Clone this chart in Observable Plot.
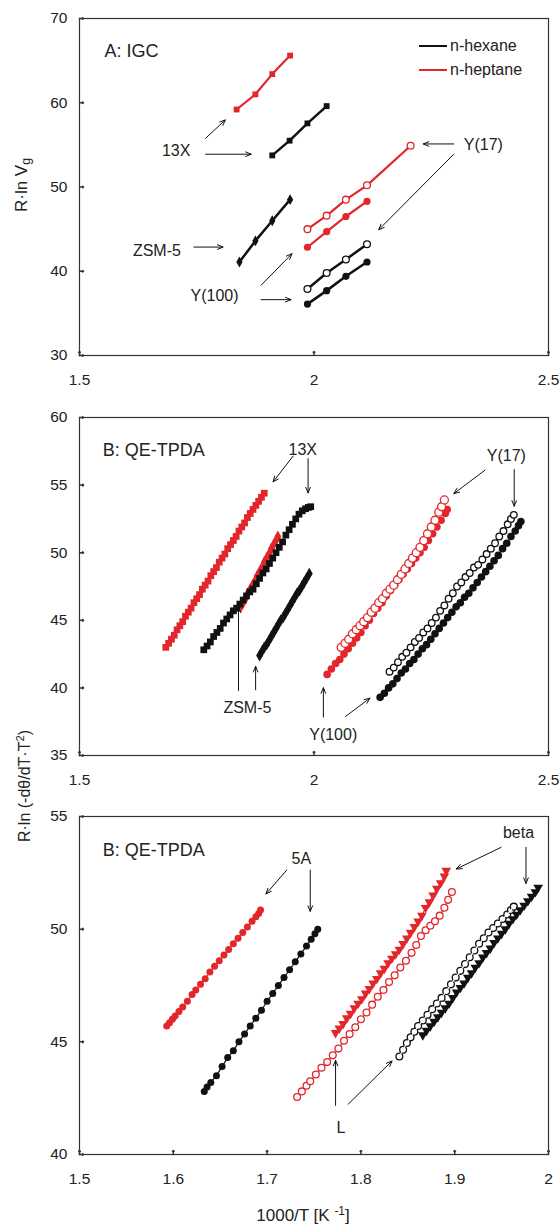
<!DOCTYPE html>
<html><head><meta charset="utf-8">
<script src="https://cdn.jsdelivr.net/npm/d3@7"></script>
<script src="https://cdn.jsdelivr.net/npm/@observablehq/plot@0.6"></script>
<style>
body{margin:0;background:#fff;}
#wrap{position:relative;width:560px;height:1225px;font-family:"Liberation Sans",Arial,sans-serif;color:#222;}
#wrap svg{display:block;}
.lab{position:absolute;white-space:nowrap;line-height:1;}
</style></head><body><div id="wrap"></div>
<script>
// ---------------- DATA ----------------
// Panel A: IGC
const A_13X_hep_x = [1.835,1.875,1.911,1.949];
const A_13X_hep_y = [59.2,61.0,63.4,65.6];
const A_13X_hex_x = [1.911,1.948,1.986,2.027];
const A_13X_hex_y = [53.75,55.5,57.55,59.6];
const A_ZSM5_hex_x = [1.841,1.875,1.911,1.949];
const A_ZSM5_hex_y = [41.1,43.6,46.0,48.5];
const A_Y17_hep_x = [1.986,2.027,2.068,2.113,2.206];
const A_Y17_hep_y = [45.0,46.6,48.5,50.2,54.9];
const A_Y100_hep_x = [1.986,2.027,2.068,2.113];
const A_Y100_hep_y = [42.85,44.7,46.5,48.3];
const A_Y17_hex_x = [1.986,2.027,2.068,2.113];
const A_Y17_hex_y = [37.9,39.8,41.4,43.2];
const A_Y100_hex_x = [1.986,2.027,2.068,2.113];
const A_Y100_hex_y = [36.1,37.7,39.4,41.1];

// Panel B: QE-TPDA (13X, ZSM-5, Y)
const B_13X_hep_x = [1.684,1.690,1.696,1.702,1.708,1.714,1.720,1.726,1.732,1.738,1.744,1.750,1.756,1.762,1.768,1.774,1.780,1.786,1.792,1.798,1.804,1.810,1.816,1.822,1.828,1.834,1.840,1.846,1.852,1.858,1.864,1.870,1.876,1.882,1.888,1.894];
const B_13X_hep_y = [43.0,43.3,43.6,43.9,44.3,44.6,44.9,45.3,45.6,45.9,46.3,46.6,46.9,47.3,47.6,47.9,48.3,48.6,48.9,49.3,49.6,49.9,50.3,50.6,50.9,51.2,51.6,51.9,52.2,52.6,52.9,53.2,53.5,53.8,54.1,54.4];
const B_13X_hex_x = [1.765,1.772,1.779,1.786,1.793,1.800,1.807,1.814,1.821,1.828,1.835,1.842,1.849,1.856,1.863,1.870,1.877,1.884,1.891,1.898,1.905,1.912,1.919,1.926,1.933,1.940,1.947,1.954,1.961,1.968,1.975,1.982,1.988,1.993];
const B_13X_hex_y = [42.82,43.1,43.4,43.8,44.1,44.4,44.8,45.1,45.4,45.7,45.9,46.2,46.5,46.8,47.1,47.3,47.7,48.1,48.5,48.8,49.2,49.6,50.0,50.4,50.8,51.3,51.7,52.1,52.5,52.85,53.1,53.25,53.35,53.4];
const B_ZSM5_hep_x = [1.844,1.849,1.854,1.859,1.864,1.869,1.874,1.879,1.884,1.889,1.894,1.899,1.904,1.909,1.914,1.919,1.923];
const B_ZSM5_hep_y = [46.0,46.3,46.6,47.0,47.3,47.6,47.9,48.3,48.6,48.9,49.3,49.6,49.9,50.3,50.6,50.9,51.2];
const B_ZSM5_hex_x = [1.884,1.889,1.894,1.899,1.904,1.909,1.914,1.919,1.924,1.929,1.934,1.939,1.944,1.949,1.954,1.959,1.964,1.969,1.974,1.979,1.984,1.990];
const B_ZSM5_hex_y = [42.4,42.7,43.0,43.2,43.5,43.8,44.1,44.4,44.7,45.0,45.2,45.5,45.8,46.1,46.4,46.7,47.0,47.2,47.5,47.8,48.1,48.45];
const B_Y100_hep_x = [2.028,2.037,2.046,2.055,2.064,2.073,2.082,2.091,2.100,2.109,2.118,2.127,2.136,2.145,2.154,2.163,2.172,2.181,2.190,2.199,2.208,2.217,2.226,2.235,2.244,2.253,2.262,2.271,2.280,2.284];
const B_Y100_hep_y = [41.0,41.4,41.8,42.1,42.5,42.9,43.3,43.7,44.1,44.6,45.0,45.5,45.9,46.3,46.8,47.2,47.6,48.0,48.4,48.8,49.2,49.6,50.0,50.4,50.9,51.4,51.9,52.4,52.9,53.2];
const B_Y17_hep_x = [2.058,2.066,2.074,2.082,2.090,2.098,2.106,2.114,2.122,2.130,2.138,2.146,2.154,2.162,2.170,2.178,2.186,2.194,2.202,2.210,2.218,2.226,2.234,2.242,2.250,2.258,2.266,2.272,2.278];
const B_Y17_hep_y = [43.0,43.3,43.6,44.0,44.3,44.6,44.9,45.2,45.6,45.9,46.3,46.6,47.0,47.3,47.6,48.0,48.4,48.8,49.2,49.6,50.0,50.4,50.9,51.4,51.9,52.4,53.0,53.4,53.9];
const B_Y17_hex_x = [2.161,2.170,2.179,2.188,2.197,2.206,2.215,2.224,2.233,2.242,2.251,2.260,2.269,2.278,2.287,2.296,2.305,2.314,2.323,2.332,2.341,2.350,2.359,2.368,2.377,2.386,2.395,2.404,2.413,2.420,2.426];
const B_Y17_hex_y = [41.2,41.5,41.9,42.3,42.6,43.0,43.4,43.7,44.1,44.4,44.8,45.2,45.7,46.1,46.6,47.0,47.5,47.8,48.2,48.5,48.9,49.1,49.5,49.9,50.3,50.7,51.2,51.6,52.1,52.5,52.8];
const B_Y100_hex_x = [2.141,2.150,2.159,2.168,2.177,2.186,2.195,2.204,2.213,2.222,2.231,2.240,2.249,2.258,2.267,2.276,2.285,2.294,2.303,2.312,2.321,2.330,2.339,2.348,2.357,2.366,2.375,2.384,2.393,2.402,2.411,2.420,2.429,2.436,2.441];
const B_Y100_hex_y = [39.3,39.6,40.0,40.3,40.7,41.1,41.4,41.8,42.1,42.5,42.9,43.2,43.6,44.0,44.4,44.8,45.2,45.6,46.0,46.3,46.7,47.0,47.4,47.8,48.2,48.6,49.0,49.4,49.8,50.3,50.7,51.2,51.6,52.0,52.3];

// Panel C: QE-TPDA (5A, beta, L)
const C_5A_hep_x = [1.593,1.596,1.599,1.602,1.606,1.610,1.615,1.620,1.624,1.629,1.634,1.639,1.644,1.649,1.654,1.659,1.664,1.669,1.674,1.679,1.684,1.688,1.691,1.693];
const C_5A_hep_y = [45.7,45.85,46.0,46.15,46.35,46.55,46.8,47.1,47.3,47.55,47.8,48.1,48.35,48.6,48.85,49.1,49.35,49.6,49.85,50.1,50.35,50.55,50.7,50.85];
const C_5A_hex_x = [1.633,1.636,1.640,1.646,1.652,1.658,1.664,1.670,1.676,1.682,1.688,1.694,1.700,1.706,1.712,1.718,1.724,1.730,1.736,1.742,1.747,1.751,1.754];
const C_5A_hex_y = [42.8,43.0,43.2,43.5,43.9,44.3,44.6,45.0,45.35,45.7,46.05,46.4,46.8,47.15,47.5,47.85,48.2,48.55,48.9,49.25,49.55,49.8,50.0];
const C_beta_hep_x = [1.773,1.777,1.781,1.785,1.789,1.793,1.797,1.801,1.805,1.809,1.813,1.817,1.821,1.825,1.829,1.833,1.837,1.841,1.845,1.849,1.853,1.857,1.861,1.865,1.869,1.873,1.877,1.881,1.885,1.889,1.891];
const C_beta_hep_y = [45.4,45.6,45.8,46.05,46.25,46.5,46.7,46.9,47.15,47.35,47.6,47.8,48.05,48.25,48.5,48.7,48.9,49.1,49.35,49.6,49.85,50.1,50.35,50.6,50.95,51.2,51.5,51.8,52.05,52.35,52.6];
const C_L_hep_x = [1.732,1.737,1.742,1.746,1.752,1.758,1.764,1.770,1.776,1.782,1.788,1.794,1.800,1.806,1.812,1.818,1.824,1.830,1.836,1.842,1.848,1.854,1.859,1.864,1.869,1.874,1.879,1.884,1.889,1.893,1.897];
const C_L_hep_y = [42.55,42.8,43.05,43.25,43.55,43.85,44.1,44.4,44.7,45.05,45.35,45.65,46.0,46.3,46.65,47.0,47.3,47.65,47.95,48.3,48.6,48.95,49.3,49.7,49.95,50.15,50.35,50.6,50.95,51.3,51.65];
const C_L_hex_x = [1.841,1.845,1.849,1.853,1.857,1.861,1.866,1.871,1.876,1.881,1.886,1.891,1.896,1.901,1.906,1.911,1.916,1.921,1.926,1.931,1.936,1.941,1.946,1.951,1.956,1.960,1.963];
const C_L_hex_y = [44.35,44.65,44.95,45.2,45.45,45.7,45.95,46.2,46.45,46.7,46.95,47.25,47.55,47.85,48.15,48.45,48.75,49.05,49.35,49.6,49.85,50.05,50.25,50.45,50.65,50.85,51.0];
const C_beta_hex_x = [1.866,1.870,1.874,1.878,1.882,1.886,1.890,1.894,1.898,1.902,1.906,1.910,1.914,1.918,1.922,1.926,1.930,1.934,1.938,1.942,1.946,1.950,1.954,1.958,1.962,1.966,1.970,1.974,1.978,1.982,1.986,1.989];
const C_beta_hex_y = [45.3,45.5,45.7,45.9,46.1,46.3,46.5,46.7,46.95,47.2,47.4,47.6,47.85,48.05,48.3,48.5,48.75,48.95,49.15,49.4,49.6,49.8,50.0,50.25,50.45,50.65,50.85,51.05,51.25,51.45,51.65,51.85];

// Tick values
const A_xTicks = [1.5, 2, 2.5];
const A_yTicks = [30, 40, 50, 60, 70];
const B_xTicks = [1.5, 2, 2.5];
const B_yTicks = [35, 40, 45, 50, 55, 60];
const C_xTicks = [1.5, 1.6, 1.7, 1.8, 1.9, 2];
const C_yTicks = [40, 45, 50, 55];

// Annotations (data units)
const A_labels = [
  {x: 1.706, y: 54.3, text: "13X"},
  {x: 1.665, y: 42.36, text: "ZSM-5"},
  {x: 1.788, y: 37.03, text: "Y(100)"},
  {x: 2.361, y: 55.0, text: "Y(17)"}
];
const A_arrows = [
  [1.769, 55.79, 1.811, 57.96],
  [1.769, 53.89, 1.866, 53.89],
  [1.744, 42.87, 1.806, 42.87],
  [1.887, 38.33, 1.953, 42.08],
  [1.887, 36.63, 1.951, 36.63],
  [2.298, 55.11, 2.233, 55.11],
  [2.298, 53.89, 2.138, 44.93]
];
const B_labels = [
  {x: 1.976, y: 57.63, text: "13X"},
  {x: 2.410, y: 57.14, text: "Y(17)"},
  {x: 1.858, y: 38.53, text: "ZSM-5"},
  {x: 2.041, y: 36.53, text: "Y(100)"}
];
const B_arrows = [
  [1.9554, 57.14, 1.9128, 55.24],
  [1.9874, 56.96, 1.9874, 54.42],
  [2.3644, 56.10, 2.2982, 54.37],
  [2.4269, 56.15, 2.4269, 53.44],
  [1.839, 39.81, 1.839, 45.98],
  [1.8755, 39.86, 1.8755, 41.59],
  [2.020, 37.84, 2.020, 40.01],
  [2.0674, 37.89, 2.1192, 39.24]
];
const C_labels = [
  {x: 1.7365, y: 53.11, text: "5A"},
  {x: 1.968, y: 54.29, text: "beta"},
  {x: 1.7788, y: 41.20, text: "L"}
];
const C_arrows = [
  [1.7209, 52.62, 1.6988, 51.56],
  [1.746, 52.62, 1.746, 50.79],
  [1.9494, 53.63, 1.9017, 52.67],
  [1.976, 53.63, 1.976, 52.03],
  [1.773, 42.18, 1.773, 44.18],
  [1.7864, 42.23, 1.8332, 44.15]
];
const A_title = [{x: 1.5533, y: 66.17, text: "A: IGC"}];
const B_title = [{x: 1.5495, y: 57.58, text: "B: QE-TPDA"}];
const C_title = [{x: 1.5248, y: 53.51, text: "B: QE-TPDA"}];

// ---------------- DRAWING ----------------
const RED = "#e3262b", BLACK = "#111";
const FONT = "'Liberation Sans', Arial, sans-serif";

function rows(xs, ys) { return xs.map((x, i) => ({x, y: ys[i]})); }

function series(xs, ys, o) {
  const data = rows(xs, ys);
  const m = [];
  if (o.line) m.push(Plot.line(data, {x: "x", y: "y", stroke: o.color, strokeWidth: o.line}));
  m.push(Plot.dot(data, {
    x: "x", y: "y", symbol: o.symbol || "circle", r: o.r || 3.3,
    fill: o.open ? "white" : o.color,
    stroke: o.open ? o.color : "none",
    strokeWidth: o.open ? 1.3 : 0,
    rotate: o.rotate || 0
  }));
  return m;
}

function annot(labels, arrows, title) {
  return [
    Plot.arrow(arrows, {x1: d => d[0], y1: d => d[1], x2: d => d[2], y2: d => d[3],
      stroke: BLACK, strokeWidth: 1, headLength: 9, headAngle: 45}),
    Plot.text(labels, {x: "x", y: "y", text: "text", fontSize: 16, fill: "#222"}),
    Plot.text(title, {x: "x", y: "y", text: "text", fontSize: 18, fill: "#222", textAnchor: "start"})
  ];
}

function panel({xDomain, yDomain, xTicks, yTicks, height, marginTop, marginBottom, marks}) {
  return Plot.plot({
    width: 560, height, marginLeft: 79, marginRight: 12, marginTop, marginBottom,
    x: {domain: xDomain}, y: {domain: yDomain},
    style: {fontFamily: FONT, background: "white", color: "#222"},
    marks: [
      Plot.axisX(xTicks, {tickSize: 0, tickPadding: 18, tickFormat: d => String(d), label: null, fontSize: 15.5, fill: "#222"}),
      Plot.axisY(yTicks, {tickSize: 0, tickPadding: 12, tickFormat: d => String(d), label: null, fontSize: 15.5, fill: "#222"}),
      Plot.vector(xTicks, {x: d => d, y: yDomain[0], length: 4, rotate: 0, anchor: "start", stroke: "#333"}),
      Plot.vector(yTicks, {x: xDomain[0], y: d => d, length: 4, rotate: 90, anchor: "start", stroke: "#333"}),
      ...marks,
      Plot.frame({stroke: "#333", strokeWidth: 1.2})
    ]
  });
}

const plotA = panel({
  xDomain: [1.5, 2.5], yDomain: [30, 70], xTicks: A_xTicks, yTicks: A_yTicks,
  height: 400, marginTop: 18, marginBottom: 45,
  marks: [
    ...series(A_13X_hep_x, A_13X_hep_y, {color: RED, symbol: "square", line: 2.2, r: 3.3}),
    ...series(A_13X_hex_x, A_13X_hex_y, {color: BLACK, symbol: "square", line: 2.5, r: 3.3}),
    ...series(A_ZSM5_hex_x, A_ZSM5_hex_y, {color: BLACK, symbol: "diamond", line: 2.5, r: 3.3}),
    ...series(A_Y17_hep_x, A_Y17_hep_y, {color: RED, open: true, line: 2.2, r: 3.4}),
    ...series(A_Y100_hep_x, A_Y100_hep_y, {color: RED, line: 2.2, r: 3.6}),
    ...series(A_Y17_hex_x, A_Y17_hex_y, {color: BLACK, open: true, line: 2.5, r: 3.4}),
    ...series(A_Y100_hex_x, A_Y100_hex_y, {color: BLACK, line: 2.5, r: 3.6}),
    ...annot(A_labels, A_arrows, A_title)
  ]
});

const plotB = panel({
  xDomain: [1.5, 2.5], yDomain: [35, 60], xTicks: B_xTicks, yTicks: B_yTicks,
  height: 400, marginTop: 17, marginBottom: 45,
  marks: [
    ...series(B_13X_hep_x, B_13X_hep_y, {color: RED, symbol: "square", r: 3.8}),
    ...series(B_ZSM5_hep_x, B_ZSM5_hep_y, {color: RED, symbol: "diamond", r: 3.6}),
    ...series(B_13X_hex_x, B_13X_hex_y, {color: BLACK, symbol: "square", r: 3.8}),
    ...series(B_ZSM5_hex_x, B_ZSM5_hex_y, {color: BLACK, symbol: "diamond", r: 3.6}),
    ...series(B_Y100_hep_x, B_Y100_hep_y, {color: RED, r: 3.8}),
    ...series(B_Y17_hep_x, B_Y17_hep_y, {color: RED, open: true, r: 4.0}),
    ...series(B_Y100_hex_x, B_Y100_hex_y, {color: BLACK, r: 3.8}),
    ...series(B_Y17_hex_x, B_Y17_hex_y, {color: BLACK, open: true, r: 3.3}),
    ...annot(B_labels, B_arrows, B_title)
  ]
});

const plotC = panel({
  xDomain: [1.5, 2.0], yDomain: [40, 55], xTicks: C_xTicks, yTicks: C_yTicks,
  height: 425, marginTop: 16, marginBottom: 71,
  marks: [
    ...series(C_5A_hep_x, C_5A_hep_y, {color: RED, line: 1.2, r: 3.5}),
    ...series(C_5A_hex_x, C_5A_hex_y, {color: BLACK, line: 1.2, r: 3.5}),
    ...series(C_beta_hep_x, C_beta_hep_y, {color: RED, symbol: "triangle", rotate: 180, line: 1.2, r: 3.6}),
    ...series(C_L_hep_x, C_L_hep_y, {color: RED, open: true, line: 1.2, r: 3.4}),
    ...series(C_L_hex_x, C_L_hex_y, {color: BLACK, open: true, r: 3.4}),
    ...series(C_beta_hex_x, C_beta_hex_y, {color: BLACK, symbol: "triangle", rotate: 180, line: 1.2, r: 3.6}),
    Plot.line(rows(C_L_hex_x, C_L_hex_y), {x: "x", y: "y", stroke: "white", strokeWidth: 1.2}),
    ...annot(C_labels, C_arrows, C_title)
  ]
});

const wrap = document.getElementById("wrap");
wrap.append(plotA, plotB, plotC);

function label(html, css) {
  const d = document.createElement("div");
  d.className = "lab";
  d.innerHTML = html;
  Object.assign(d.style, css);
  wrap.append(d);
}
// y axis titles
label("R·ln V<sub style='font-size:0.72em;vertical-align:-0.25em'>g</sub>", {
  left: "23px", top: "185px", fontSize: "17px", transform: "translate(-50%,-50%) rotate(-90deg)"
});
label("R·ln (-dθ/dT·T<sup style='font-size:0.7em;vertical-align:0.45em'>2</sup>)", {
  left: "24px", top: "786px", fontSize: "16px", transform: "translate(-50%,-50%) rotate(-90deg)"
});
// x axis title
label("1000/T [K <sup style='font-size:0.7em;vertical-align:0.5em'>-1</sup>]", {
  left: "303px", top: "1215px", fontSize: "17px", transform: "translate(-50%,-50%)"
});
// legend
const leg = [["n-hexane", BLACK, 45.7], ["n-heptane", RED, 70]];
for (const [t, c, y] of leg) {
  label("", {left: "419px", top: (y - 1.2) + "px", width: "28px", height: "2.4px", background: c});
  label(t, {left: "450px", top: y + "px", fontSize: "16px", transform: "translateY(-50%)"});
}
</script></body></html>
